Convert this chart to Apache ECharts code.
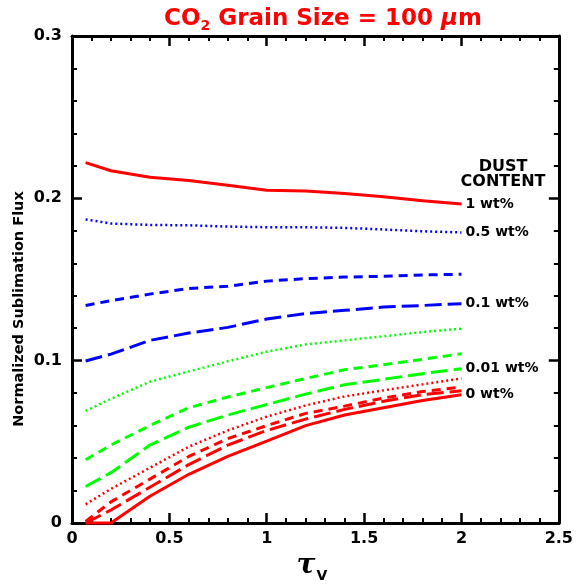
<!DOCTYPE html>
<html>
<head>
<meta charset="utf-8">
<script src="https://cdn.jsdelivr.net/npm/echarts@6/dist/echarts.min.js"></script>
<style>html,body{margin:0;padding:0;background:#fff}#c{width:576px;height:585px}</style>
</head>
<body>
<div id="c"></div>
<script>
// optical depth values (x)
const tau = [0.07, 0.2, 0.4, 0.6, 0.8, 1.0, 1.2, 1.4, 1.6, 1.8, 2.0];
// normalized sublimation flux per dust content curve
const red1wt      = [0.222, 0.217, 0.213, 0.211, 0.208, 0.205, 0.2045, 0.203, 0.201, 0.1985, 0.1965];
const blue05dot   = [0.187, 0.1845, 0.1836, 0.1834, 0.1826, 0.1822, 0.1822, 0.1818, 0.1808, 0.1797, 0.179];
const blueShort   = [0.134, 0.137, 0.141, 0.1445, 0.1458, 0.149, 0.1505, 0.1515, 0.152, 0.1528, 0.1532];
const blue01long  = [0.0998, 0.104, 0.1125, 0.117, 0.1205, 0.1257, 0.129, 0.131, 0.133, 0.134, 0.1351];
const greenDot    = [0.069, 0.0765, 0.087, 0.0934, 0.0996, 0.1055, 0.110, 0.1125, 0.115, 0.1176, 0.1197];
const greenShort  = [0.039, 0.048, 0.060, 0.071, 0.0776, 0.0834, 0.089, 0.0944, 0.0975, 0.1008, 0.1043];
const green001long= [0.0225, 0.031, 0.048, 0.059, 0.0665, 0.073, 0.0794, 0.0852, 0.0885, 0.092, 0.095];
const redDot      = [0.0115, 0.021, 0.034, 0.047, 0.057, 0.0655, 0.0724, 0.078, 0.0817, 0.0854, 0.089];
const redShort    = [0.001, 0.013, 0.027, 0.041, 0.052, 0.060, 0.0675, 0.072, 0.077, 0.081, 0.0837];
const redLong     = [0.0, 0.008, 0.022, 0.036, 0.048, 0.057, 0.064, 0.070, 0.075, 0.079, 0.0815];
const red0wt      = [0.0, 0.0, 0.0165, 0.030, 0.041, 0.0505, 0.060, 0.0665, 0.071, 0.0755, 0.079];
// text
const curveLabels = {red1wt:'1 wt%', blue05dot:'0.5 wt%', blue01long:'0.1 wt%', green001long:'0.01 wt%', red0wt:'0 wt%'};

const FONT = 'DejaVu Sans';
const RED='#ff0000', BLUE='#0000ff', GREEN='#00ff00';
const DOT=[2,3], SHORT=[9,6], LONG=[17,6];

function mk(name, vals, color, type, width, label){
  return {
    name, type:'line', data: tau.map((t,i)=>[t, vals[i]]),
    symbol:'none', silent:true, clip:false,
    lineStyle:{color, width, type, cap:'butt', join:'round'},
    endLabel: label ? {show:true, formatter:label, color:'#000', fontFamily:FONT, fontWeight:'bold', fontSize:14, distance:4} : {show:false},
    z: 3
  };
}

const chart = echarts.init(document.getElementById('c'), null, {renderer:'canvas'});
const axisCommon = {
  axisLine:{show:true, onZero:false, lineStyle:{color:'#000', width:3}},
  splitLine:{show:false},
  axisTick:{show:true, inside:true, length:10, lineStyle:{color:'#000', width:2.5}},
  minorTick:{show:true, splitNumber:5, length:5, lineStyle:{color:'#000', width:2}},
};
chart.setOption({
  animation:false,
  backgroundColor:'#fff',
  title:{
    text:'CO{s|2} Grain Size = 100 {mu|μ}m',
    left:318, top:1, textAlign:'center',
    textStyle:{color:RED, fontFamily:FONT, fontWeight:'bold', fontSize:23,
      rich:{s:{color:RED, fontFamily:FONT, fontWeight:'bold', fontSize:14, verticalAlign:'bottom', padding:[13,0,0,0]},
            mu:{color:RED, fontFamily:FONT, fontWeight:'bold', fontStyle:'italic', fontSize:23}}}
  },
  grid:{left:72, right:13, top:36, bottom:62},
  xAxis:[{
    type:'value', min:0, max:2.5, interval:0.5, position:'bottom',
    ...axisCommon,
    axisLabel:{color:'#000', fontFamily:FONT, fontWeight:'bold', fontSize:16, margin:8},
  },{
    type:'value', min:0, max:2.5, interval:0.5, position:'top',
    ...axisCommon,
    axisLabel:{show:false}
  }],
  yAxis:[{
    type:'value', min:0, max:0.3, interval:0.1, position:'left',
    ...axisCommon,
    axisLabel:{color:'#000', fontFamily:FONT, fontWeight:'bold', fontSize:16, margin:10},
  },{
    type:'value', min:0, max:0.3, interval:0.1, position:'right',
    ...axisCommon,
    axisLabel:{show:false}
  }],
  graphic:[
    {type:'text', x:503, y:167, style:{text:'DUST', fill:'#000', font:'bold 16px "DejaVu Sans"', align:'center', verticalAlign:'middle'}},
    {type:'text', x:503, y:182, style:{text:'CONTENT', fill:'#000', font:'bold 16px "DejaVu Sans"', align:'center', verticalAlign:'middle'}},
    {type:'text', x:19, y:309, rotation:Math.PI/2, style:{text:'Normalized Sublimation Flux', fill:'#000', font:'bold 14.5px "DejaVu Sans"', align:'center', verticalAlign:'middle'}},
    {type:'text', x:306, y:566, style:{text:'τ', fill:'#000', font:'italic bold 28px "DejaVu Serif"', align:'center', verticalAlign:'middle'}},
    {type:'text', x:322, y:576, style:{text:'V', fill:'#000', font:'bold 14px "DejaVu Sans"', align:'center', verticalAlign:'middle'}}
  ],
  series:[
    mk('red0wt', red0wt, RED, 'solid', 3, curveLabels.red0wt),
    mk('redLong', redLong, RED, LONG, 3, null),
    mk('redShort', redShort, RED, SHORT, 3, null),
    mk('redDot', redDot, RED, DOT, 2.5, null),
    mk('green001long', green001long, GREEN, LONG, 3, curveLabels.green001long),
    mk('greenShort', greenShort, GREEN, SHORT, 3, null),
    mk('greenDot', greenDot, GREEN, DOT, 2.5, null),
    mk('blue01long', blue01long, BLUE, LONG, 3, curveLabels.blue01long),
    mk('blueShort', blueShort, BLUE, SHORT, 3, null),
    mk('blue05dot', blue05dot, BLUE, DOT, 2.5, curveLabels.blue05dot),
    mk('red1wt', red1wt, RED, 'solid', 3, curveLabels.red1wt)
  ]
});
</script>
</body>
</html>
